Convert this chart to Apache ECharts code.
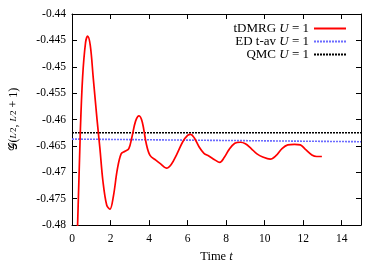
<!DOCTYPE html>
<html><head><meta charset="utf-8">
<script src="https://cdn.jsdelivr.net/npm/echarts@6/dist/echarts.min.js"></script>
<style>html,body{margin:0;padding:0;background:#fff}#c{width:382px;height:268px}</style>
</head><body><div id="c"></div>
<script>
const dmrgT = [0.0,0.2,0.29,0.43,0.55,0.7,0.81,0.95,1.1,1.3,1.45,1.6,1.8,1.97,2.15,2.35,2.55,2.75,2.95,3.1,3.3,3.48,3.65,3.85,4.05,4.35,4.6,4.9,5.15,5.45,5.75,6.0,6.16,6.35,6.6,6.85,7.1,7.4,7.67,7.9,8.15,8.45,8.74,9.0,9.3,9.6,9.9,10.29,10.6,10.9,11.2,11.55,11.85,12.1,12.45,12.7,12.97];
const dmrgG = [-0.508,-0.487,-0.480,-0.4625,-0.452,-0.4455,-0.4442,-0.446,-0.452,-0.460,-0.4655,-0.4715,-0.4762,-0.4770,-0.4745,-0.4695,-0.4665,-0.4660,-0.4655,-0.4635,-0.4603,-0.4593,-0.4605,-0.4645,-0.4668,-0.4677,-0.4684,-0.4692,-0.4685,-0.4665,-0.4642,-0.4630,-0.4628,-0.4635,-0.4652,-0.4664,-0.4669,-0.4676,-0.4681,-0.4672,-0.4657,-0.4645,-0.4643,-0.4646,-0.4655,-0.4665,-0.4671,-0.4675,-0.4668,-0.4655,-0.4648,-0.4647,-0.4648,-0.4656,-0.4667,-0.4670,-0.4670];
const edT = [0, 15];
const edG = [-0.4637, -0.4642];
const qmcT = [0, 15];
const qmcG = [-0.4625, -0.4625];
const xTicks = [0,2,4,6,8,10,12,14];
const yTicks = [-0.48,-0.475,-0.47,-0.465,-0.46,-0.455,-0.45,-0.445,-0.44];
const seriesNames = ['tDMRG U = 1','ED t-av U = 1','QMC U = 1'];

const font = 'Liberation Serif';
const pair = (t, g) => t.map((v, i) => [v, g[i]]);
const chart = echarts.init(document.getElementById('c'));
const axisLine = {show: true, onZero: false, lineStyle: {color: '#000', width: 1}};
const tick = {show: true, inside: true, length: 5, lineStyle: {color: '#000'}};
chart.setOption({
  animation: false,
  grid: {left: 71, right: 21, top: 14, bottom: 38},
  legend: {
    right: 30, top: 17, orient: 'vertical', align: 'right',
    itemWidth: 32, itemHeight: 8, itemGap: 0,
    itemStyle: {opacity: 0, borderWidth: 0},
    textStyle: {fontFamily: font, fontSize: 13, color: '#000', lineHeight: 11,
      rich: {i: {fontFamily: font, fontStyle: 'italic', fontSize: 13, lineHeight: 11}, n: {fontFamily: font, fontSize: 13, lineHeight: 11}}},
    formatter: n => {
      const p = n.split(' U = ');
      return '{n|' + p[0] + ' }{i|U}{n| = ' + p[1] + '}';
    },
    data: seriesNames
  },
  xAxis: [
    {type: 'value', min: 0, max: 15, interval: 2, position: 'bottom',
      name: '{n|Time }{i|t}', nameLocation: 'middle', nameGap: 24,
      nameTextStyle: {fontFamily: font, fontSize: 12.5, color: '#000',
        rich: {n: {fontFamily: font, fontSize: 12.5}, i: {fontFamily: font, fontSize: 12.5, fontStyle: 'italic'}}},
      axisLabel: {fontFamily: font, fontSize: 11.5, color: '#000', margin: 8,
        customValues: xTicks, formatter: v => String(v)},
      axisTick: Object.assign({customValues: xTicks}, tick),
      axisLine: axisLine, splitLine: {show: false}},
    {type: 'value', min: 0, max: 15, interval: 2, position: 'top',
      axisLabel: {show: false},
      axisTick: Object.assign({customValues: xTicks}, tick),
      axisLine: axisLine, splitLine: {show: false}}
  ],
  yAxis: [
    {type: 'value', min: -0.48, max: -0.44, interval: 0.005, position: 'left',
      name: '{s|𝒢(}{f|L}{g|⁄2}{s|, }{f|L}{g|⁄2}{s| + 1)}', nameLocation: 'middle', nameGap: 52, nameRotate: 90,
      nameTextStyle: {fontFamily: font, fontSize: 12, color: '#000',
        rich: {s: {fontFamily: font, fontSize: 12}, f: {fontFamily: font, fontSize: 9, fontStyle: 'italic'}, g: {fontFamily: font, fontSize: 9}}},
      axisLabel: {fontFamily: font, fontSize: 11.5, color: '#000', margin: 6,
        formatter: v => String(+v.toFixed(3))},
      axisTick: tick, axisLine: axisLine, splitLine: {show: false}},
    {type: 'value', min: -0.48, max: -0.44, interval: 0.005, position: 'right',
      axisLabel: {show: false}, axisTick: tick, axisLine: axisLine, splitLine: {show: false}}
  ],
  series: [
    {name: seriesNames[0], type: 'line', data: pair(dmrgT, dmrgG), smooth: 0.35, showSymbol: false, symbol: 'none',
      clip: true, lineStyle: {color: '#ff0000', width: 1.7}, itemStyle: {color: '#ff0000'}, z: 3},
    {name: seriesNames[1], type: 'line', data: pair(edT, edG), showSymbol: false, symbol: 'none',
      lineStyle: {color: '#6b6bff', width: 1.6, type: [2, 1]}, itemStyle: {color: '#6b6bff'}, z: 2},
    {name: seriesNames[2], type: 'line', data: pair(qmcT, qmcG), showSymbol: false, symbol: 'none',
      lineStyle: {color: '#000', width: 1.7, type: [2, 1]}, itemStyle: {color: '#000'}, z: 2}
  ]
});
</script></body></html>
